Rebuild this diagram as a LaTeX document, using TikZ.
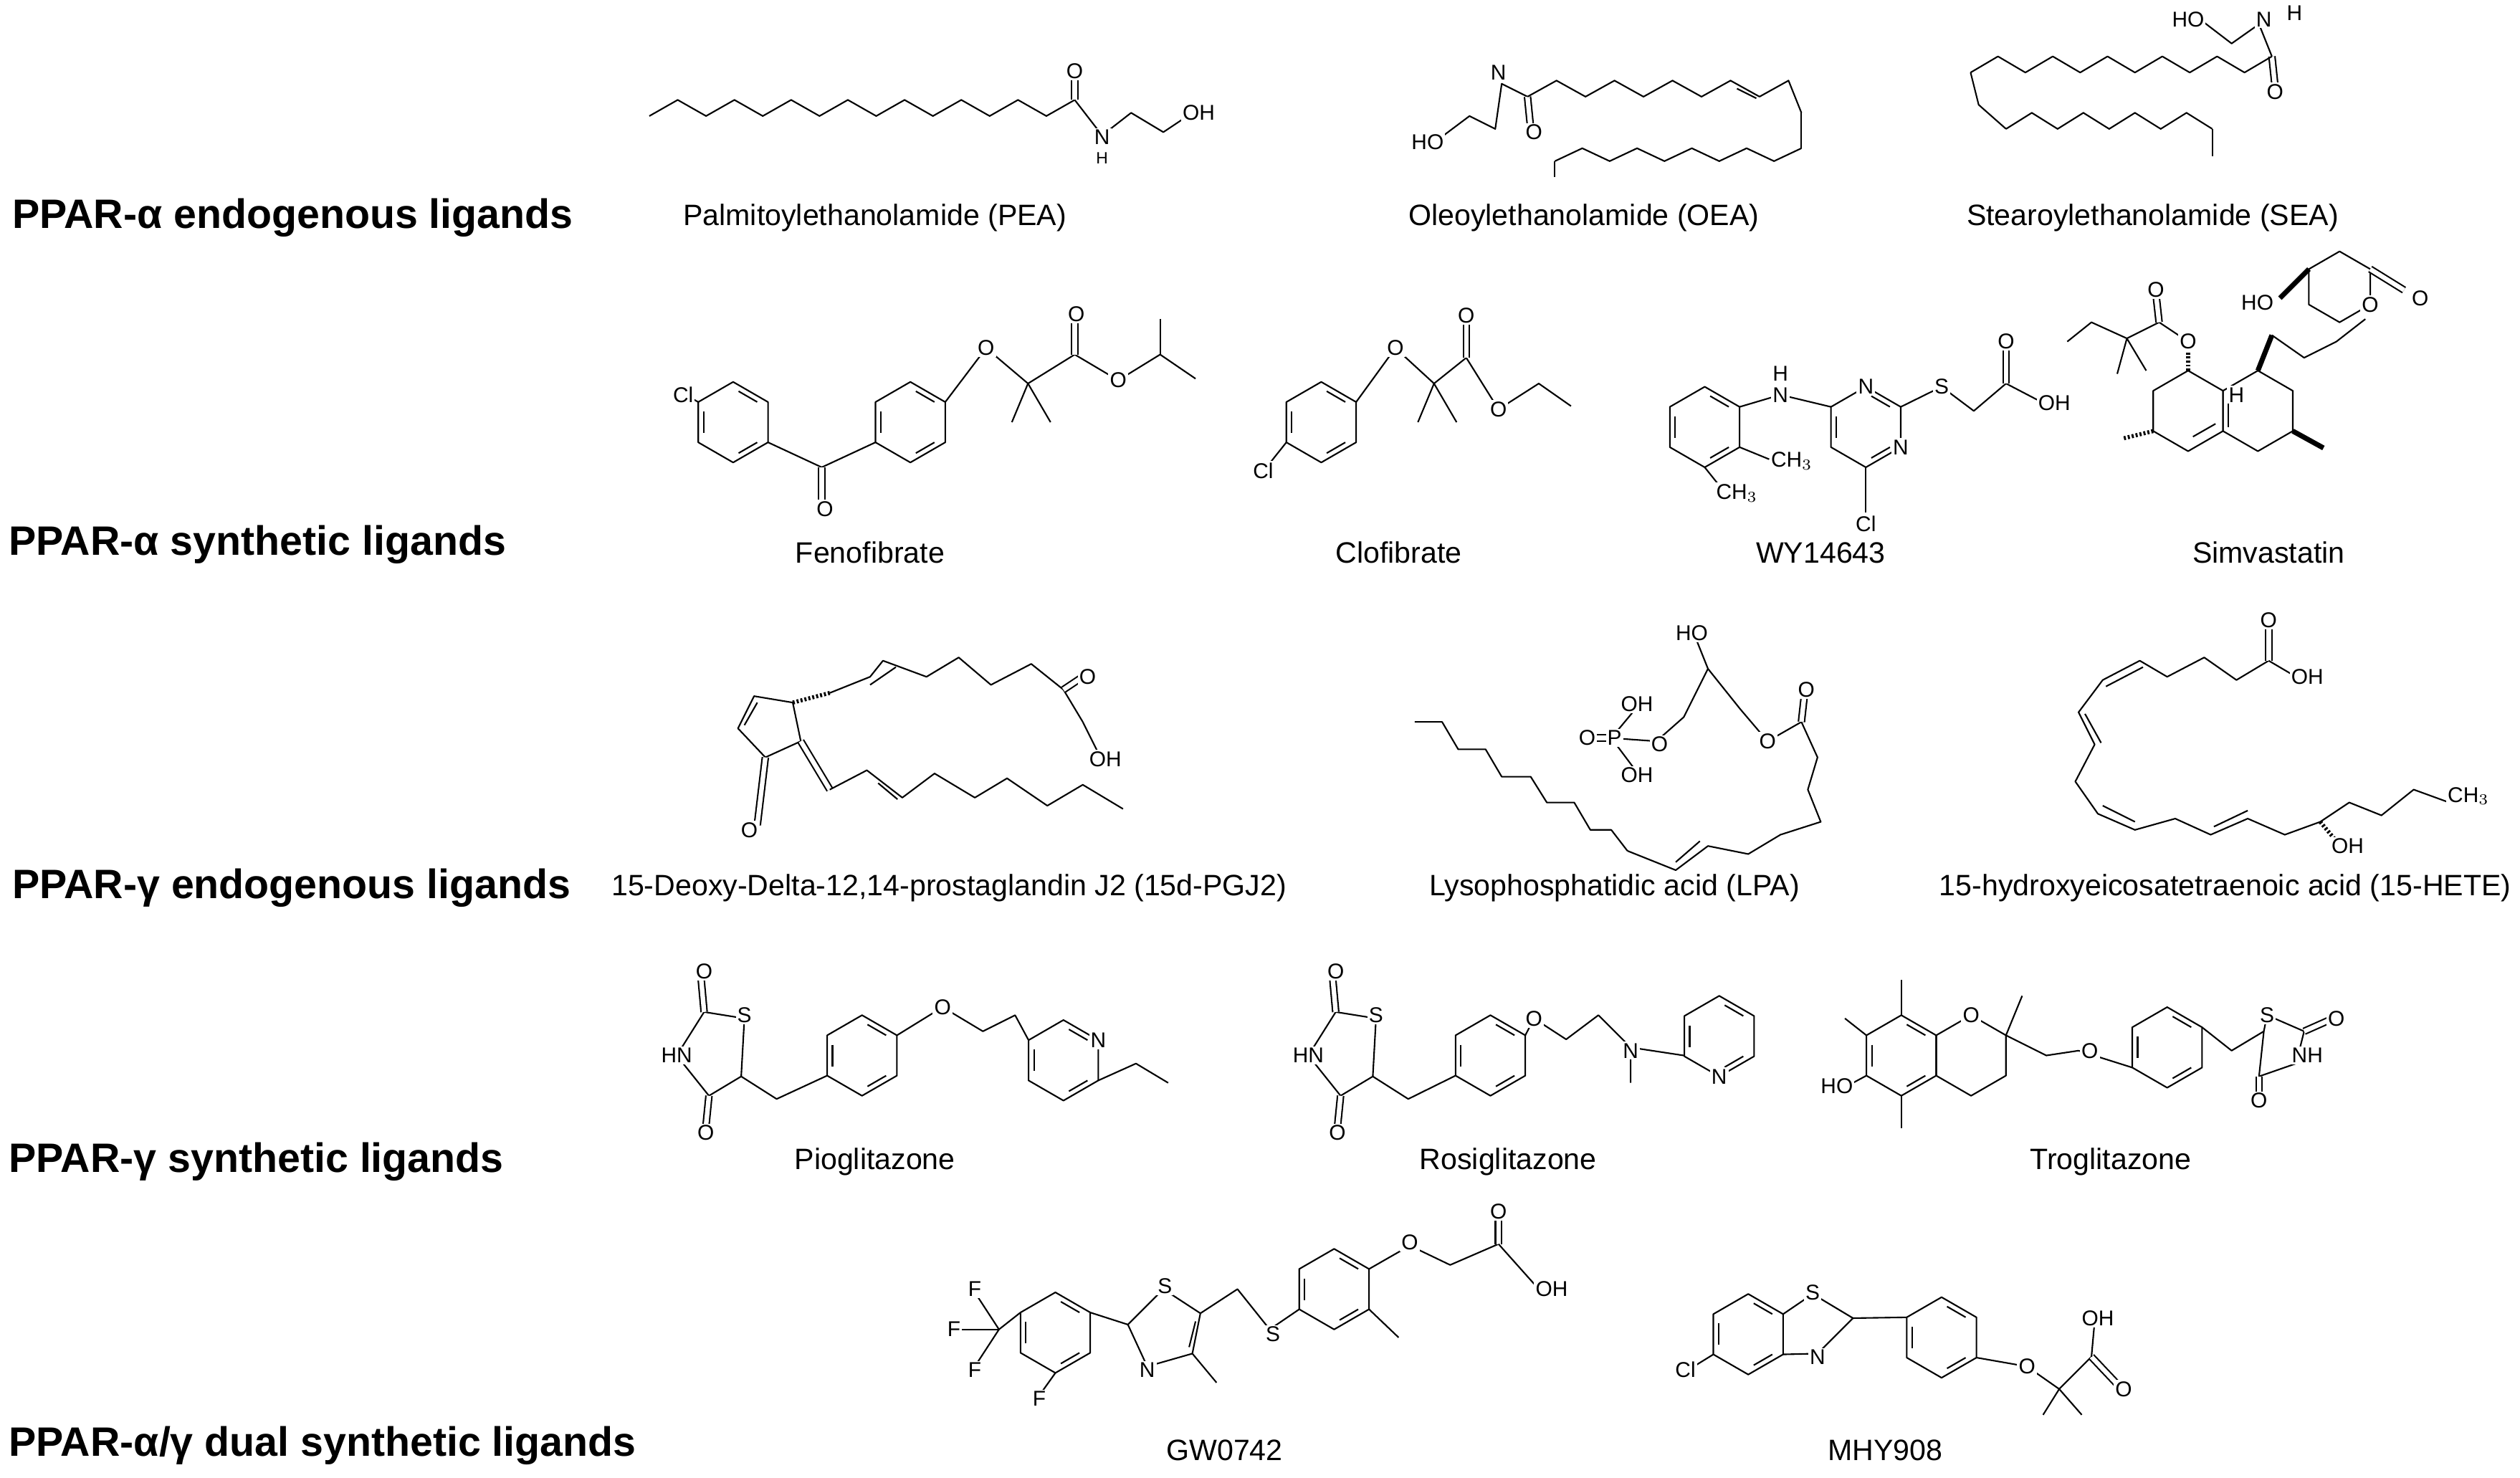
\documentclass[tikz,border=0pt]{standalone}
\usepackage{fontspec}
\setmainfont{Liberation Sans}
\usetikzlibrary{calc}
\tikzset{atom/.style={font=\fontsize{8.5}{9}\selectfont, inner sep=0.6pt, fill=white},
  molname/.style={font=\fontsize{11.7}{13}\selectfont},
  grouplabel/.style={font=\bfseries\fontsize{16.3}{18}\selectfont, anchor=west},
  dbl/.style={double, double distance=1.8pt},
  wedge/.style={line width=2pt},
  hashed/.style={dash pattern=on 0.8pt off 0.8pt, line width=1.6pt}}
\newcounter{atm}
\newcommand\A[3]{\stepcounter{atm}\node[atom] (at\arabic{atm}) at (#1,#2) {#3};}
% hexagon, pointy top, with inner bonds
\newcommand\hexa[3]{\draw (#1,#2) +(90:#3) -- +(30:#3) -- +(-30:#3) -- +(-90:#3) -- +(-150:#3) -- +(150:#3) -- cycle;
  \foreach \a in {90,210,330}{\draw (#1,#2) +(\a-10:0.78*#3) -- +(\a-50:0.78*#3);}}
\newcommand\hexp[3]{\draw (#1,#2) +(90:#3) -- +(30:#3) -- +(-30:#3) -- +(-90:#3) -- +(-150:#3) -- +(150:#3) -- cycle;}
% zigzag chain
\newcommand\zz[5]{\draw (#1,#2) \foreach \i in {1,...,#3}{ -- ++(#4,{ifthenelse(isodd(\i),1,-1)*#5}) };}
\begin{document}
\begin{tikzpicture}[x=0.02248cm, y=-0.02248cm, line width=0.6pt, line join=round]
  \useasboundingbox (0,0) rectangle (1564,917);

  % group labels
  \node[grouplabel] (g1) at (2,135) {PPAR-α endogenous ligands};
  \node[grouplabel] (g2) at (0,338) {PPAR-α synthetic ligands};
  \node[grouplabel] (g3) at (2,551) {PPAR-γ endogenous ligands};
  \node[grouplabel] (g4) at (0,721) {PPAR-γ synthetic ligands};
  \node[grouplabel] (g5) at (0,897) {PPAR-α/γ dual synthetic ligands};

  % molecule names
  \node[molname] (pea) at (543,135) {Palmitoylethanolamide (PEA)};
  \node[molname] (oea) at (983,135) {Oleoylethanolamide (OEA)};
  \node[molname] (sea) at (1336,135) {Stearoylethanolamide (SEA)};
  \node[molname] (feno) at (540,343) {Fenofibrate};
  \node[molname] (clofi) at (868,343) {Clofibrate};
  \node[molname] (wy) at (1130,343) {WY14643};
  \node[molname] (simva) at (1408,343) {Simvastatin};
  \node[molname] (pgj) at (589,551) {15-Deoxy-Delta-12,14-prostaglandin J2 (15d-PGJ2)};
  \node[molname] (lpa) at (1002,551) {Lysophosphatidic acid (LPA)};
  \node[molname] (hete) at (1381,551) {15-hydroxyeicosatetraenoic acid (15-HETE)};
  \node[molname] (pio) at (543,721) {Pioglitazone};
  \node[molname] (rosi) at (936,721) {Rosiglitazone};
  \node[molname] (trog) at (1310,721) {Troglitazone};
  \node[molname] (gw) at (760,900) {GW0742};
  \node[molname] (mhy) at (1170,900) {MHY908};

  % PEA
  \zz{403}{72}{15}{17.6}{-10}
  \draw[dbl] (667,62) -- (667,46);
  \draw (667,62) -- (684,84) -- (702,70) -- (722,82) -- (740,70);
  \A{667}{44}{O}\A{684}{85}{N}\node[atom,font=\fontsize{6.5}{7}\selectfont] (peah) at (684,98) {H};\A{744}{70}{OH}

  % OEA
  \draw (896,84) -- (912,72) -- (928,80) -- (932,52) -- (948,60);
  \draw[dbl] (948,60) -- (950,80);
  \zz{948}{60}{8}{18}{-10}
  \draw (1092,60) -- (1110,50) -- (1118,70);
  \draw (1075,52) ++(3,3) -- ++(12,6);
  \zz{1118}{92}{9}{-17}{8}
  \draw (1118,70) -- (1118,92);
  \draw (965,100) -- (965,110);
  \A{886}{88}{HO}\A{930}{45}{N}\A{952}{82}{O}

  % SEA
  \draw (1368,14) -- (1385,27) -- (1402,15) -- (1410,35);
  \draw[dbl] (1410,35) -- (1412,54);
  \zz{1410}{35}{11}{-17}{10}
  \draw (1223,45) -- (1228,65) -- (1245,80);
  \zz{1245}{80}{8}{16}{-10}
  \draw (1373,80) -- (1373,97);
  \A{1358}{12}{HO}\A{1405}{12}{N}\A{1424}{8}{H}\A{1412}{57}{O}

  % Fenofibrate
  \hexa{455}{262}{25}\hexa{565}{262}{25}
  \draw (433.35,249.5) -- (422,243);
  \draw (476.65,274.5) -- (510,290) -- (543.35,274.5);
  \draw[dbl] (510,290) -- (510,310);
  \draw (586.65,249.5) -- (612,216) -- (638,238) -- (628,262);
  \draw (638,238) -- (652,262);
  \draw (638,238) -- (667,220) -- (694,236) -- (720,220) -- (742,235);
  \draw (720,220) -- (720,198);
  \draw[dbl] (667,220) -- (667,198);
  \A{424}{245}{Cl}\A{512}{316}{O}\A{612}{216}{O}\A{668}{195}{O}\A{694}{236}{O}

  % Clofibrate
  \hexa{820}{262}{25}
  \draw (798.35,274.5) -- (786,290);
  \draw (841.65,249.5) -- (866,216) -- (890,238) -- (880,262);
  \draw (890,238) -- (904,262);
  \draw (890,238) -- (910,222) -- (930,254) -- (955,238) -- (975,252);
  \draw[dbl] (910,222) -- (910,198);
  \A{784}{292}{Cl}\A{866}{216}{O}\A{910}{196}{O}\A{930}{254}{O}

  % WY14643
  \hexa{1058}{265}{25}\hexa{1158}{265}{25}
  \draw (1079.65,252.5) -- (1105,245) -- (1136.35,252.5);
  \draw (1079.65,277.5) -- (1098,285);
  \draw (1058,290) -- (1066,300);
  \draw (1158,290) -- (1158,318);
  \draw (1179.65,252.5) -- (1205,240) -- (1225,255) -- (1245,238) -- (1268,250);
  \draw[dbl] (1245,238) -- (1245,215);
  \A{1105}{245}{N}\A{1105}{232}{H}\A{1112}{286}{CH$_3$}\A{1078}{306}{CH$_3$}
  \A{1158}{240}{N}\A{1179.65}{277.5}{N}\A{1158}{325}{Cl}\A{1205}{240}{S}\A{1245}{212}{O}\A{1275}{250}{OH}

  % Simvastatin
  \hexp{1358}{255}{25}\hexp{1401.3}{255}{25}
  \draw (1375,263) -- (1361,271);
  \draw (1383,245) -- (1383,265);
  \draw[hashed] (1336.35,267.5) -- (1318,272);
  \draw[wedge] (1422.95,267.5) -- (1442,278);
  \draw[hashed] (1358,230) -- (1358,212);
  \draw (1358,212) -- (1340,200) -- (1320,210) -- (1298,200) -- (1283,212);
  \draw (1320,210) -- (1314,232);\draw (1320,210) -- (1332,230);
  \draw[dbl] (1340,200) -- (1338,182);
  \draw[wedge] (1401.3,230) -- (1410,208);
  \draw (1410,208) -- (1430,222) -- (1450,212) -- (1468,198);
  \hexp{1452}{178}{22}
  \draw[wedge] (1433,167) -- (1415,185);
  \draw[dbl] (1471,167) -- (1492,180);
  \A{1401}{188}{HO}\A{1471}{189}{O}\A{1502}{185}{O}\A{1358}{212}{O}\A{1338}{180}{O}\A{1388}{245}{H}

  % 15d-PGJ2
  \draw (475,470) -- (458,452) -- (468,432) -- (492,436) -- (497,460) -- cycle;
  \draw (462,450) -- (470,436);
  \draw[dbl] (475,470) -- (470,512);
  \draw[hashed] (492,436) -- (515,430);
  \draw (515,430) -- (540,420) -- (548,410) -- (575,420) -- (595,408) -- (615,425) -- (640,412) -- (660,428) -- (672,448);
  \draw (540,425) -- (556,414);
  \draw[dbl] (660,428) -- (672,420);
  \draw (672,448) -- (683,470);
  \draw[dbl] (497,460) -- (515,490);
  \draw (515,490) -- (538,478) -- (560,495) -- (580,480) -- (605,495) -- (625,483) -- (650,500) -- (672,487) -- (697,502);
  \draw (545,486) -- (557,496);
  \A{465}{515}{O}\A{675}{420}{O}\A{686}{471}{OH}

  % LPA
  \draw (1000,458) -- (1015,440);\draw (1000,458) -- (1015,478);
  \draw[dbl] (985,458) -- (1000,458);
  \draw (1000,458) -- (1028,460) -- (1045,445) -- (1060,415) -- (1052,395);
  \draw (1060,415) -- (1080,440) -- (1097,460) -- (1118,448);
  \draw[dbl] (1118,448) -- (1120,430);
  \draw (1118,448) -- (1128,470) -- (1122,490) -- (1130,510) -- (1105,518) -- (1085,530) -- (1060,525) -- (1040,540) -- (1010,528);
  \draw (1040,535) -- (1055,522);
  \draw (878,448) -- (895,448) -- (905,465) -- (922,465) -- (932,482) -- (950,482) -- (960,498) -- (977,498) -- (987,515) -- (1000,515) -- (1010,528);
  \A{985}{458}{O}\A{1002}{458}{P}\A{1016}{437}{OH}\A{1016}{481}{OH}\A{1030}{462}{O}\A{1050}{393}{HO}\A{1097}{460}{O}\A{1121}{428}{O}

  % 15-HETE
  \draw (1408,410) -- (1388,422) -- (1368,408) -- (1345,420) -- (1328,410) -- (1305,422) -- (1290,442) -- (1300,462) -- (1288,485) -- (1302,505) -- (1325,515) -- (1350,508) -- (1372,518) -- (1395,508) -- (1418,518) -- (1440,510) -- (1458,498) -- (1478,506) -- (1498,490) -- (1520,498);
  \draw (1330,414) -- (1307,426);\draw (1294,443) -- (1304,461);\draw (1305,500) -- (1325,510);\draw (1374,513) -- (1395,503);
  \draw[dbl] (1408,410) -- (1408,390);
  \draw (1408,410) -- (1425,420);
  \draw[hashed] (1440,510) -- (1450,522);
  \A{1408}{385}{O}\A{1432}{420}{OH}\A{1532}{494}{CH$_3$}\A{1457}{525}{OH}

  % Pioglitazone
  \draw (437,628) -- (462,632) -- (460,668) -- (440,680) -- (420,655) -- cycle;
  \draw[dbl] (437,628) -- (435,606);\draw[dbl] (440,680) -- (438,700);
  \draw (460,668) -- (482,682) -- (513.35,667.5);
  \hexa{535}{655}{25}
  \draw (556.65,642.5) -- (585,625) -- (610,640) -- (630,630) -- (638.35,645.5);
  \hexa{660}{658}{25}
  \draw (681.65,670.5) -- (705,660) -- (725,672);
  \A{437}{603}{O}\A{462}{630}{S}\A{420}{655}{HN}\A{438}{703}{O}\A{585}{625}{O}\A{681.65}{645.5}{N}

  % Rosiglitazone
  \draw (829,628) -- (854,632) -- (852,668) -- (832,680) -- (812,655) -- cycle;
  \draw[dbl] (829,628) -- (827,606);\draw[dbl] (832,680) -- (830,700);
  \draw (852,668) -- (874,682) -- (903.35,667.5);
  \hexa{925}{655}{25}
  \draw (946.65,642.5) -- (952,632) -- (972,645) -- (992,630) -- (1012,650) -- (1012,672);
  \draw (1012,650) -- (1045,655);
  \hexa{1067}{643}{25}
  \A{829}{603}{O}\A{854}{630}{S}\A{812}{655}{HN}\A{830}{703}{O}\A{952}{632}{O}\A{1012}{652}{N}\A{1067}{668}{N}

  % Troglitazone
  \hexa{1180}{655}{25}\hexp{1223.3}{655}{25}
  \draw (1180,630) -- (1180,608);\draw (1158.35,642.5) -- (1145,632);
  \draw (1180,680) -- (1180,700);\draw (1158.35,667.5) -- (1150,672);
  \draw (1244.95,642.5) -- (1255,618);\draw (1244.95,642.5) -- (1270,655) -- (1290,652);
  \hexa{1345}{650}{25}
  \draw (1290,652) -- (1323.35,662.5);
  \draw (1366.65,637.5) -- (1385,652) -- (1405,640);
  \draw (1405,640) -- (1407,630) -- (1430,640) -- (1425,660) -- (1402,668) -- cycle;
  \draw[dbl] (1430,640) -- (1448,632);\draw[dbl] (1402,668) -- (1402,680);
  \A{1140}{674}{HO}\A{1223.3}{630}{O}\A{1297}{652}{O}\A{1407}{630}{S}\A{1450}{632}{O}\A{1432}{655}{NH}\A{1402}{683}{O}

  % GW0742
  \hexa{655}{827}{25}
  \draw (633.35,814.5) -- (620,825);
  \draw (620,825) -- (605,802);\draw (620,825) -- (597,825);\draw (620,825) -- (605,848);
  \draw (655,852) -- (645,866);
  \draw (676.65,814.5) -- (700,822);
  \draw (700,822) -- (722,800) -- (745,815) -- (740,840) -- (712,848) -- cycle;
  \draw (742,820) -- (738,836);
  \draw (740,840) -- (755,858);
  \draw (745,815) -- (768,800) -- (788,825) -- (806.35,812.5);
  \hexa{828}{800}{25}
  \draw (849.65,812.5) -- (868,830);
  \draw (849.65,787.5) -- (875,773) -- (900,785) -- (930,772);
  \draw[dbl] (930,772) -- (930,755);\draw (930,772) -- (955,800);
  \A{605}{800}{F}\A{592}{825}{F}\A{605}{850}{F}\A{645}{868}{F}\A{723}{798}{S}\A{712}{850}{N}\A{790}{828}{S}\A{875}{771}{O}\A{930}{752}{O}\A{963}{800}{OH}

  % MHY908
  \hexa{1085}{828}{25}
  \draw (1063.35,840.5) -- (1048,850);
  \draw (1106.65,815.5) -- (1125,803) -- (1150,818) -- (1128,840) -- (1106.65,840.5);
  \draw (1150,818) -- (1183.35,817.5);
  \hexa{1205}{830}{25}
  \draw (1226.65,842.5) -- (1258,848) -- (1278,862) -- (1268,878);
  \draw (1278,862) -- (1292,878);\draw (1278,862) -- (1298,842);
  \draw[dbl] (1298,842) -- (1315,860);\draw (1298,842) -- (1300,820);
  \A{1046}{850}{Cl}\A{1125}{802}{S}\A{1128}{842}{N}\A{1258}{848}{O}\A{1318}{862}{O}\A{1302}{818}{OH}
\end{tikzpicture}
\end{document}
